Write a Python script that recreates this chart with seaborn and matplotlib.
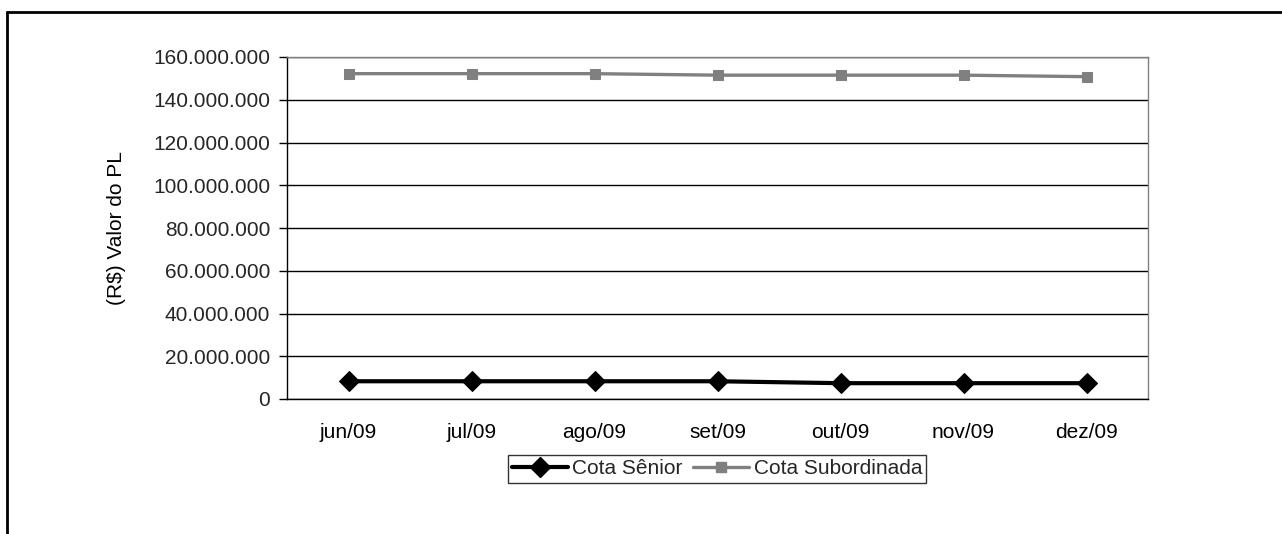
import matplotlib
matplotlib.use("Agg")
import matplotlib.pyplot as plt
import seaborn as sns
import pandas as pd
from matplotlib.ticker import FuncFormatter, FixedLocator
from matplotlib.lines import Line2D

months = ["jun/09", "jul/09", "ago/09", "set/09", "out/09", "nov/09", "dez/09"]
senior = [8.3e6, 8.3e6, 8.3e6, 8.3e6, 7.4e6, 7.4e6, 7.4e6]
subordinada = [152.2e6, 152.2e6, 152.2e6, 151.5e6, 151.5e6, 151.5e6, 150.8e6]
series_names = ["Cota Sênior", "Cota Subordinada"]
y_ticks = [0, 20e6, 40e6, 60e6, 80e6, 100e6, 120e6, 140e6, 160e6]

sns.set_theme(style="white")
plt.rcParams['font.family'] = ['Liberation Sans', 'DejaVu Sans']

df = pd.DataFrame({
    "mes": months * 2,
    "pos": list(range(len(months))) * 2,
    "valor": senior + subordinada,
    "serie": [series_names[0]] * len(months) + [series_names[1]] * len(months),
})

FS = 15
fig = plt.figure(figsize=(12.82, 5.34), dpi=100)
ax = fig.add_axes([287/1282, 1 - 399/534, (1148-287)/1282, (399-57)/534])

d1 = df[df.serie == series_names[0]]
d2 = df[df.serie == series_names[1]]
sns.lineplot(data=d2, x="pos", y="valor", ax=ax, color="#808080", linewidth=2.4,
             marker="s", markersize=7.5, markeredgecolor="#808080", legend=False)
sns.lineplot(data=d1, x="pos", y="valor", ax=ax, color="black", linewidth=3.0,
             marker="D", markersize=10, markeredgecolor="black", legend=False)

ax.set_xlim(-0.5, len(months) - 0.5)
ax.set_ylim(0, 160e6)
ax.set_yticks(y_ticks)
ax.yaxis.set_major_formatter(FuncFormatter(lambda v, p: f"{int(v):,}".replace(",", ".")))
ax.set_xticks(range(len(months)))
ax.set_xticklabels(months)
ax.xaxis.set_minor_locator(FixedLocator([i - 0.5 for i in range(len(months) + 1)]))
ax.tick_params(axis="x", which="major", length=0, labelsize=FS, pad=17, colors="black")
ax.tick_params(axis="x", which="minor", length=5, width=1, color="black", direction="out")
ax.tick_params(axis="y", which="major", length=6, width=1, color="black", direction="out",
               labelsize=FS, pad=6, left=True)
ax.set_xlabel("")
ax.set_ylabel("(R$) Valor do PL", fontsize=FS, color="black")
ax.yaxis.set_label_coords((126 - 287) / 861, 0.5)
ax.grid(axis="y", color="black", linewidth=1)
ax.grid(axis="x", visible=False)
ax.set_axisbelow(True)
for s in ["left", "bottom"]:
    ax.spines[s].set_color("black")
    ax.spines[s].set_linewidth(1)
for s in ["top", "right"]:
    ax.spines[s].set_color("#808080")
    ax.spines[s].set_linewidth(1)

handles = [
    Line2D([], [], color="black", linewidth=3.0, marker="D", markersize=10),
    Line2D([], [], color="#808080", linewidth=2.4, marker="s", markersize=7.5),
]
leg = fig.legend(handles, series_names, loc="center", bbox_to_anchor=(717/1282, 1 - 469/534),
                 ncol=2, frameon=True, fancybox=False, fontsize=FS, handlelength=2.7,
                 handletextpad=0.2, columnspacing=0.5, borderpad=0.2, borderaxespad=0,
                 edgecolor="black")
leg.get_frame().set_linewidth(1)

# outer chart border (top and left visible)
fig.add_artist(Line2D([7/1282, 1.0], [1 - 12/534, 1 - 12/534], color="black", linewidth=2,
                      transform=fig.transFigure))
fig.add_artist(Line2D([7/1282, 7/1282], [0.0, 1 - 12/534], color="black", linewidth=2,
                      transform=fig.transFigure))

fig.savefig("out.png", dpi=100, facecolor="white")
